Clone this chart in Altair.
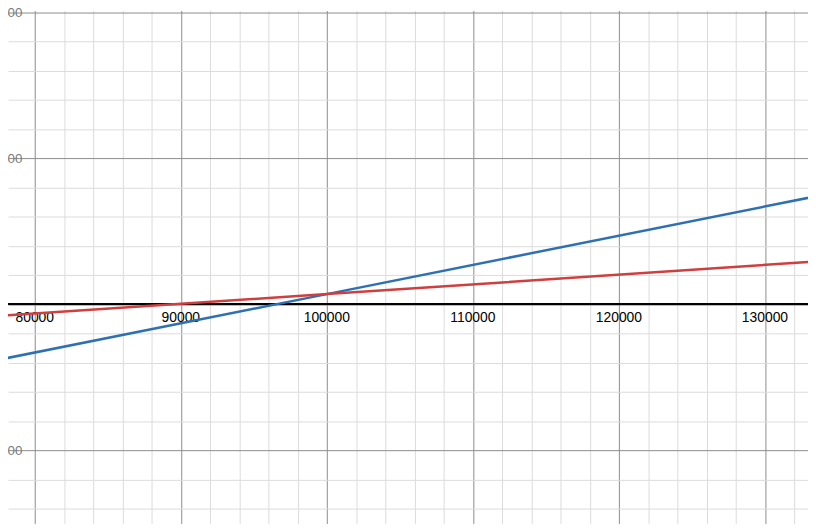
import altair as alt
import pandas as pd

# Values
x_pts = [77000, 100000, 134000]
blue_vals = [-3900, 700, 7500]
red_vals = [-833, 700, 2967]

x_label_vals = [80000, 90000, 100000, 110000, 120000, 130000]
x_grid = list(range(78000, 134001, 2000))
y_grid = list(range(-14000, 20001, 2000))

x_domain = [78169, 132949]
y_domain = [-15003, 20115]

W, H = 808, 518

lines_df = pd.DataFrame(
    {"x": x_pts * 2,
     "y": blue_vals + red_vals,
     "series": ["blue"] * len(x_pts) + ["red"] * len(x_pts)}
)
labels_df = pd.DataFrame({"x": x_label_vals, "lab": [str(v) for v in x_label_vals]})

xs = alt.Scale(domain=x_domain, nice=False, zero=False)
ys = alt.Scale(domain=y_domain, nice=False, zero=False)

grid_color = {"condition": {"test": "datum.value % 10000 === 0", "value": "#8c8c8c"},
              "value": "#dcdcdc"}

x_axis = alt.Axis(values=x_grid, tickCount=200, grid=True, gridColor=grid_color, gridWidth=1,
                  labels=False, ticks=False, domain=False, title=None)
y_axis = alt.Axis(values=y_grid, tickCount=200, grid=True, gridColor=grid_color, gridWidth=1,
                  ticks=False, domain=False, title=None, format="d",
                  labelExpr="datum.value % 10000 === 0 && datum.value !== 0 ? datum.label : ''",
                  labelColor="#7a7a7a", labelFontSize=13.5, labelFont="Liberation Sans",
                  labelOverlap=False, labelPadding=2, offset=-16)

lines = alt.Chart(lines_df).mark_line(strokeWidth=2.5, clip=True).encode(
    x=alt.X("x:Q", scale=xs, axis=x_axis),
    y=alt.Y("y:Q", scale=ys, axis=y_axis),
    color=alt.Color("series:N", scale=alt.Scale(domain=["blue", "red"],
                                                range=["#2d70b3", "#d03f3f"]), legend=None),
)

zero_line = alt.Chart(labels_df).mark_rule(color="black", strokeWidth=1.5).encode(
    y=alt.datum(0, scale=ys)
)

x_labels = alt.Chart(labels_df).mark_text(
    baseline="top", dy=7, fontSize=14, font="Liberation Sans", color="black"
).encode(
    x=alt.X("x:Q", scale=xs),
    y=alt.datum(0, scale=ys),
    text="lab:N",
)

chart = alt.layer(zero_line, x_labels, lines).properties(
    width=W, height=H,
    autosize=alt.AutoSizeParams(type="none"),
    padding=0,
).configure_view(stroke=None)

chart.save("out.html", embed_options={"renderer": "svg", "actions": False})
